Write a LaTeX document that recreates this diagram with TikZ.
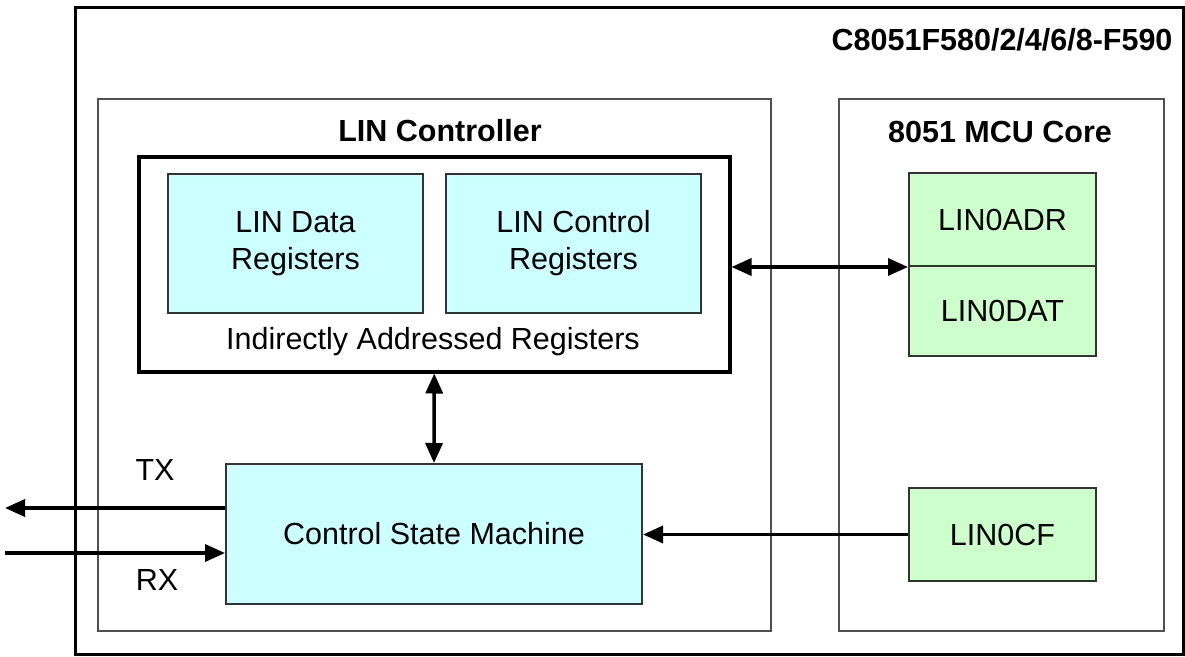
\documentclass[tikz,border=0pt]{standalone}
\usepackage{fontspec}
\setmainfont{Liberation Sans}
\usetikzlibrary{arrows.meta}
\definecolor{cyanfill}{HTML}{CCFFFF}
\definecolor{greenfill}{HTML}{CCFFCC}
\definecolor{framegray}{HTML}{505050}
\tikzset{
  blk/.style={draw, anchor=north west, inner sep=0pt, align=center},
  frame/.style={blk, draw=framegray, line width=2pt},
  regbox/.style={blk, draw=black!80, line width=2pt, fill=cyanfill},
  corebox/.style={blk, draw=black!80, line width=2pt, fill=greenfill},
  arr/.style={line width=3.5pt, -{Triangle[length=20pt,width=17pt]}},
  darr/.style={line width=3.5pt, {Triangle[length=20pt,width=17pt]}-{Triangle[length=20pt,width=17pt]}},
  ttl/.style={font=\fontsize{30.5}{37}\bfseries\selectfont}
}
\begin{document}
\begin{tikzpicture}[x=1pt,y=-1pt,font=\fontsize{30.5}{37}\selectfont]
\useasboundingbox (0,0) rectangle (1185,656);
% outer chip frame
\node[blk, line width=3pt, minimum width=1108pt, minimum height=647pt] (outer) at (74,6) {};
\node[ttl, anchor=east] (chip) at (1176,40) {C8051F580/2/4/6/8-F590};
% LIN controller
\node[frame, minimum width=673pt, minimum height=532pt] (lin) at (97,98) {};
\node[ttl] (lintitle) at (440,131) {LIN Controller};
% MCU core
\node[frame, minimum width=325pt, minimum height=532pt] (core) at (838,98) {};
\node[ttl] (coretitle) at (1000,132) {8051 MCU Core};
% indirectly addressed registers
\node[blk, line width=3.5pt, minimum width=591pt, minimum height=215pt] (ind) at (137,155) {};
\node (indlabel) at (433,342) {Indirectly Addressed Registers};
\node[regbox, minimum width=255pt, minimum height=139pt] (data) at (167,173) {LIN Data\\Registers};
\node[regbox, minimum width=255pt, minimum height=139pt] (ctrl) at (445,173) {LIN Control\\Registers};
% core registers
\node[corebox, minimum width=187pt, minimum height=93pt] (adr) at (908,172) {LIN0ADR};
\node[corebox, minimum width=187pt, minimum height=90pt] (dat) at (908,265) {LIN0DAT};
\node[corebox, minimum width=187pt, minimum height=93pt] (cf) at (908,487) {LIN0CF};
% control state machine
\node[regbox, minimum width=416pt, minimum height=140pt] (csm) at (225,463) {Control State Machine};
% connectors
\draw[darr] (ind.east |- adr.south west) -- (adr.south west);
\draw[darr] (ind.south) -- (csm.north);
\draw[arr] (cf.west) -- (csm.east |- cf.west);
\coordinate (txend) at (5,508);
\coordinate (rxstart) at (5,553);
\draw[arr] (csm.west |- txend) -- (txend);
\draw[arr] (rxstart) -- (csm.west |- rxstart);
\node (tx) at (155,470) {TX};
\node (rx) at (157,580) {RX};
\end{tikzpicture}
\end{document}
